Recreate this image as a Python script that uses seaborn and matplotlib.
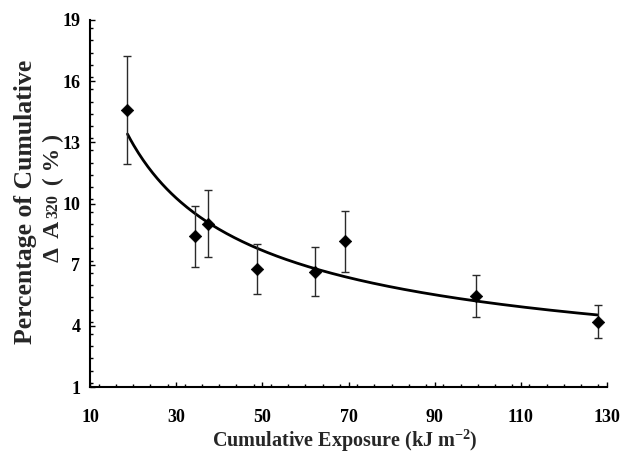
import numpy as np
import pandas as pd
import matplotlib
matplotlib.use("Agg")
import matplotlib.pyplot as plt
from matplotlib.ticker import MultipleLocator
import seaborn as sns

# Cumulative UV exposure (kJ m^-2) and percentage of cumulative ΔA320
exposure = [18.7, 34.4, 37.4, 48.7, 62.2, 69.2, 99.7, 127.8]
pct_delta_a320 = [14.6, 8.4, 9.0, 6.8, 6.65, 8.15, 5.45, 4.2]
pct_error = [2.65, 1.5, 1.64, 1.22, 1.2, 1.5, 1.03, 0.8]

x_ticks = [10, 30, 50, 70, 90, 110, 130]
y_ticks = [1, 4, 7, 10, 13, 16, 19]

df = pd.DataFrame({"exposure": exposure, "pct": pct_delta_a320, "err": pct_error})

# Power-law trend line fitted in log-log space
slope, intercept = np.polyfit(np.log(df["exposure"]), np.log(df["pct"]), 1)
x_fit = np.linspace(df["exposure"].min(), df["exposure"].max(), 300)
fit = pd.DataFrame({"exposure": x_fit, "pct": np.exp(intercept) * x_fit ** slope})

sns.set_style("ticks")
plt.rcParams["font.family"] = ["Liberation Serif", "DejaVu Serif"]
plt.rcParams["font.weight"] = "bold"
plt.rcParams["mathtext.fontset"] = "custom"
plt.rcParams["mathtext.rm"] = "Liberation Serif:bold"
plt.rcParams["mathtext.bf"] = "Liberation Serif:bold"
plt.rcParams["mathtext.it"] = "Liberation Serif:bold"
plt.rcParams["mathtext.default"] = "bf"

W, H = 621, 462
fig = plt.figure(figsize=(W / 100, H / 100), dpi=100)
ax = fig.add_axes([90 / W, 1 - 387 / H, (607 - 90) / W, (387 - 20) / H])

sns.lineplot(data=fit, x="exposure", y="pct", ax=ax, color="black", lw=2.0,
             zorder=2, legend=False)
ax.errorbar(df["exposure"], df["pct"], yerr=df["err"], fmt="none",
            ecolor="#2a2a2a", elinewidth=1.0, capsize=3.2, capthick=1.0, zorder=3)
sns.scatterplot(data=df, x="exposure", y="pct", ax=ax, marker="D", s=40,
                color="black", edgecolor="black", linewidth=0.5, zorder=4)

ax.set_xlim(10, 130)
ax.set_ylim(1, 19)
ax.set_xticks(x_ticks)
ax.set_yticks(y_ticks)
ax.xaxis.set_minor_locator(MultipleLocator(4))
ax.yaxis.set_minor_locator(MultipleLocator(0.6))
ax.tick_params(which="both", direction="in", width=1.0, colors="black")
ax.tick_params(which="major", length=3.5)
ax.tick_params(which="minor", length=2.5)
ax.tick_params(axis="x", which="major", pad=16, labelsize=13)
ax.tick_params(axis="y", which="major", pad=7, labelsize=13)
for lab in ax.get_xticklabels() + ax.get_yticklabels():
    lab.set_fontweight("bold")

sns.despine(ax=ax)
for side in ("left", "bottom"):
    ax.spines[side].set_linewidth(1.5)
    ax.spines[side].set_color("black")

ax.set_xlabel("")
ax.set_ylabel("")
fig.text(345 / W, 1 - 447 / H, "Cumulative Exposure (kJ m$^{-2}$)",
         ha="center", va="baseline", fontsize=14.5, fontweight="bold")

# Two-line rotated y label
fig.text(32 / W, 1 - 202 / H, "Percentage of Cumulative", rotation=90,
         rotation_mode="anchor", ha="center", va="baseline",
         fontsize=18.5, fontweight="bold")

fig.canvas.draw()
renderer = fig.canvas.get_renderer()
parts = [("Δ  A", 17, 0), ("320", 11.5, 2), (" ( % )", 17, 0)]
base_x = 59
center_y = H - 198
texts = []
lengths = []
for s, size, lift in parts:
    t = fig.text(0, 0, s, rotation=90, rotation_mode="anchor", ha="left",
                 va="baseline", fontsize=size, fontweight="bold")
    texts.append(t)
    lengths.append(t.get_window_extent(renderer).height)
gap = 3
total = sum(lengths) + gap * (len(parts) - 1)
y = center_y - total / 2
for t, (s, size, lift), L in zip(texts, parts, lengths):
    t.set_position(((base_x - lift) / W, y / H))
    y += L + gap

fig.savefig("out.png", dpi=100)
